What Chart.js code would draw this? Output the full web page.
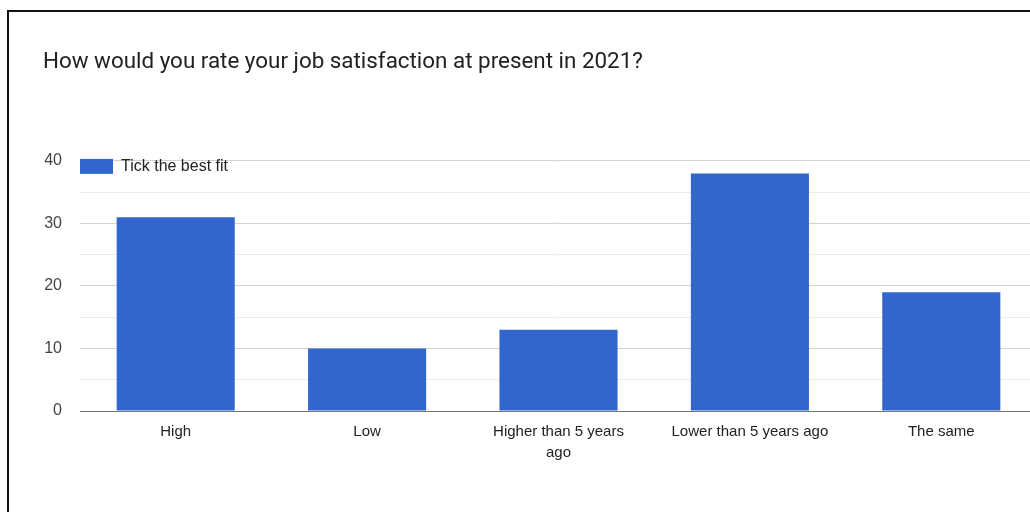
<!DOCTYPE html>
<html>
<head>
<meta charset="utf-8">
<script src="https://cdn.jsdelivr.net/npm/chart.js@4"></script>
<style>
  html, body { margin: 0; padding: 0; background: #fff; overflow: hidden; }
  #wrap { position: relative; width: 1030px; height: 512px; overflow: hidden; }
  #chart { position: absolute; left: 0; top: 0; }
  #frame {
    position: absolute; left: 7px; top: 10px; width: 1100px; height: 600px;
    border: 2px solid #111; pointer-events: none;
  }
</style>
</head>
<body>
<div id="wrap">
  <canvas id="chart" width="1040" height="512"></canvas>
  <div id="frame"></div>
</div>
<script>
const categories = ['High', 'Low', ['Higher than 5 years', 'ago'], 'Lower than 5 years ago', 'The same'];
const counts = [31, 10, 13, 38, 19];
const seriesName = 'Tick the best fit';
const yTicks = [0, 10, 20, 30, 40];

// legend drawn inside the plot, top-left corner (like the google chart)
const innerLegend = {
  id: 'innerLegend',
  afterDraw(chart) {
    const c = chart.ctx;
    const area = chart.chartArea;
    const ds = chart.data.datasets[0];
    const top = area.top - 2;
    c.save();
    c.fillStyle = ds.backgroundColor;
    c.fillRect(area.left, top, 33, 15);
    c.fillStyle = '#222';
    c.font = '16px "Liberation Sans"';
    c.textBaseline = 'middle';
    c.fillText(ds.label, area.left + 41, top + 8);
    c.restore();
  }
};

const ctx = document.getElementById('chart').getContext('2d');
new Chart(ctx, {
  type: 'bar',
  data: {
    labels: categories,
    datasets: [{
      label: seriesName,
      data: counts,
      backgroundColor: '#3366cc',
      borderWidth: 0,
      barPercentage: 0.617,
      categoryPercentage: 1
    }]
  },
  plugins: [innerLegend],
  options: {
    responsive: false,
    animation: false,
    layout: { padding: { left: 43, right: 3, top: 0, bottom: 0 } },
    plugins: {
      title: {
        display: true,
        text: 'How would you rate your job satisfaction at present in 2021?',
        align: 'start',
        color: '#222',
        font: { family: 'Roboto', size: 22.4, weight: 'normal', lineHeight: 1.2 },
        padding: { top: 49, bottom: 85 }
      },
      legend: { display: false },
      tooltip: { enabled: false }
    },
    scales: {
      x: {
        grid: { display: false, drawTicks: false },
        border: { display: true, color: '#777', width: 1 },
        ticks: {
          padding: 10,
          color: '#222',
          maxRotation: 0,
          font: { family: 'Liberation Sans', size: 15, lineHeight: 1.4 }
        },
        afterFit: s => { s.height = 101; }
      },
      y: {
        min: 0,
        max: 40,
        border: { display: false },
        grid: {
          drawTicks: false,
          color: c => {
            const v = c.tick.value;
            if (v === 0) return 'rgba(0,0,0,0)';
            return yTicks.includes(v) ? '#d2d2d2' : '#ececec';
          }
        },
        ticks: {
          stepSize: 5,
          padding: 18,
          color: '#444',
          font: { family: 'Liberation Sans', size: 16 },
          callback: v => yTicks.includes(v) ? v : ''
        },
        afterFit: s => { s.width = 37; }
      }
    }
  }
});
</script>
</body>
</html>
